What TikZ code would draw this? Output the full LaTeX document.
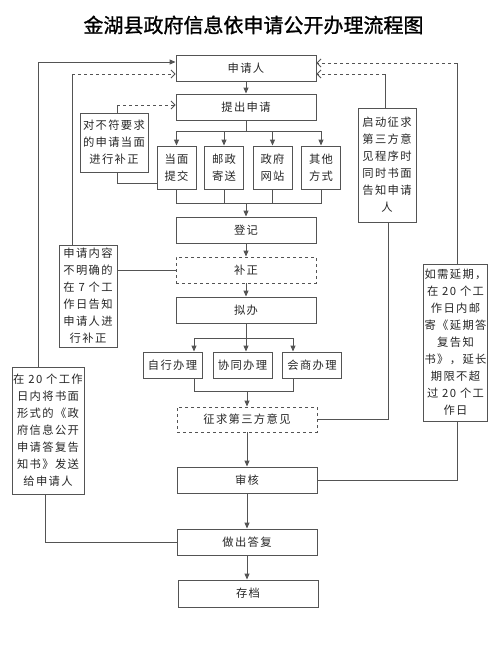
\documentclass[tikz,border=0pt]{standalone}
\usepackage{fontspec}
\setmainfont{Liberation Serif}
\newfontfamily\cjk[LetterSpace=12]{Noto Sans CJK SC}
\newfontfamily\cjktitle[FakeBold=1.2]{Noto Sans CJK SC}
\usetikzlibrary{arrows.meta,calc}
\definecolor{linec}{gray}{0.33}
\definecolor{textc}{gray}{0.15}
\tikzset{
  box/.style={draw=linec, line width=0.9pt, text=textc, align=center, inner sep=1pt,
    font=\cjk\fontsize{11.3}{17}\selectfont},
  mainbox/.style={box, minimum width=140pt, minimum height=26pt},
  dbox/.style={mainbox, dashed},
  smallbox/.style={box, minimum width=39pt, minimum height=43pt},
  midbox/.style={box, minimum width=59pt, minimum height=26pt},
  conn/.style={draw=linec, line width=0.9pt},
  arr/.style={conn, -{Triangle[length=6pt,width=5pt]}},
  oarr/.style={conn, dashed, -{Straight Barb[length=4pt,width=8pt]}},
}
\begin{document}
\begin{tikzpicture}[x=1pt,y=-1pt]
\useasboundingbox (0,0) rectangle (500,653);
\node[font=\cjktitle\fontsize{20}{22}\selectfont] (title) at (253.5,25) {金湖县政府信息依申请公开办理流程图};

% main column
\node[mainbox] (app) at (246,68) {申请人};
\node[mainbox] (tc) at (246,107) {提出申请};
\node[smallbox] (dm) at (176.5,167.5) {当面\\提交};
\node[smallbox] (yz) at (224,167.5) {邮政\\寄送};
\node[smallbox] (zf) at (272.5,167.5) {政府\\网站};
\node[smallbox] (qt) at (321,167.5) {其他\\方式};
\node[mainbox] (dj) at (246,230) {登记};
\node[dbox] (bz) at (246,270) {补正};
\node[mainbox] (nb) at (246,310) {拟办};
\node[midbox] (zx) at (172.5,365) {自行办理};
\node[midbox] (xt) at (242.5,365) {协同办理};
\node[midbox] (hs) at (312,365) {会商办理};
\node[dbox, minimum height=25pt] (zq) at (247,419.5) {征求第三方意见};
\node[mainbox] (sh) at (247,480) {审核};
\node[mainbox] (zc) at (247,542) {做出答复};
\node[mainbox, minimum height=27pt] (cd) at (248,593.5) {存档};

% side boxes
\node[box, minimum width=68pt, minimum height=59pt] (bf) at (114,142.5) {对不符要求\\的申请当面\\进行补正};
\node[box, minimum width=58pt, minimum height=102pt] (nr) at (88,296) {申请内容\\不明确的\\在 7 个工\\作日告知\\申请人进\\行补正};
\node[box, minimum width=72pt, minimum height=127pt] (ts) at (48,430.5) {在 20 个工作\\日内将书面\\形式的《政\\府信息公开\\申请答复告\\知书》发送\\给申请人};
\node[box, minimum width=58pt, minimum height=114pt] (qd) at (387,165) {启动征求\\第三方意\\见程序时\\同时书面\\告知申请\\人};
\node[box, minimum width=63pt, minimum height=157pt] (yq) at (455.5,342.5) {如需延期，\\在 20 个工\\作日内邮\\寄《延期答\\复告知\\书》，延长\\期限不超\\过 20 个工\\作日};

% coordinates
\coordinate (b1) at (246,131);
\coordinate (m1) at (246,203);
\coordinate (b2) at (246,338);
\coordinate (m2) at (247,391);
\coordinate (cL1) at (38,62);
\coordinate (cL2) at (72,74);
\coordinate (cL3) at (117,105);
\coordinate (cR1) at (457,63);
\coordinate (cR2) at (385,74);

% main flow
\draw[arr] (app) -- (tc);
\draw[conn] (tc.south) -- (b1);
\draw[arr] (b1) -| (dm.north);
\draw[arr] (b1) -| (yz.north);
\draw[arr] (b1) -| (zf.north);
\draw[arr] (b1) -| (qt.north);
\draw[conn] (dm.south) |- (m1);
\draw[conn] (yz.south) |- (m1);
\draw[conn] (zf.south) |- (m1);
\draw[conn] (qt.south) |- (m1);
\draw[arr] (m1) -- (dj.north);
\draw[arr] (dj) -- (bz);
\draw[arr] (bz) -- (nb);
\draw[conn] (nb.south) -- (b2);
\draw[arr] (b2) -| ([xshift=21.5pt]zx.north);
\draw[arr] (b2) -- (b2 |- xt.north);
\draw[arr] (b2) -| ([xshift=-19pt]hs.north);
\draw[conn] ([xshift=21.5pt]zx.south) |- (m2);
\draw[conn] ([xshift=-19pt]hs.south) |- (m2);
\draw[arr] (m2) -- (zq.north);
\draw[arr] (zq) -- (sh);
\draw[arr] (sh) -- (zc);
\draw[arr] (zc.south) -- (zc.south |- cd.north);

% left side
\draw[conn] (bf.north -| cL3) -- (cL3);
\draw[oarr] (cL3) -- (cL3 -| tc.west);
\draw[conn] ([yshift=6pt]dm.south west) -| ([xshift=3pt]bf.south);
\draw[conn] (nr.north -| cL2) -- (cL2);
\draw[oarr] (cL2) -- (cL2 -| app.west);
\draw[conn] (nr.east |- bz.west) -- (bz.west);
\draw[conn] (ts.north -| cL1) -- (cL1);
\draw[arr] (cL1) -- (cL1 -| app.west);
\draw[conn] ([xshift=-3pt]ts.south) |- (zc.west);

% right side
\draw[conn] (qd.north -| cR2) -- (cR2);
\draw[oarr] (cR2) -- (cR2 -| app.east);
\draw[conn] ([xshift=1pt]qd.south) |- (zq.east);
\draw[conn] (yq.north -| cR1) -- (cR1);
\draw[oarr] (cR1) -- (cR1 -| app.east);
\draw[conn] (yq.south -| cR1) |- (sh.east);
\end{tikzpicture}
\end{document}
